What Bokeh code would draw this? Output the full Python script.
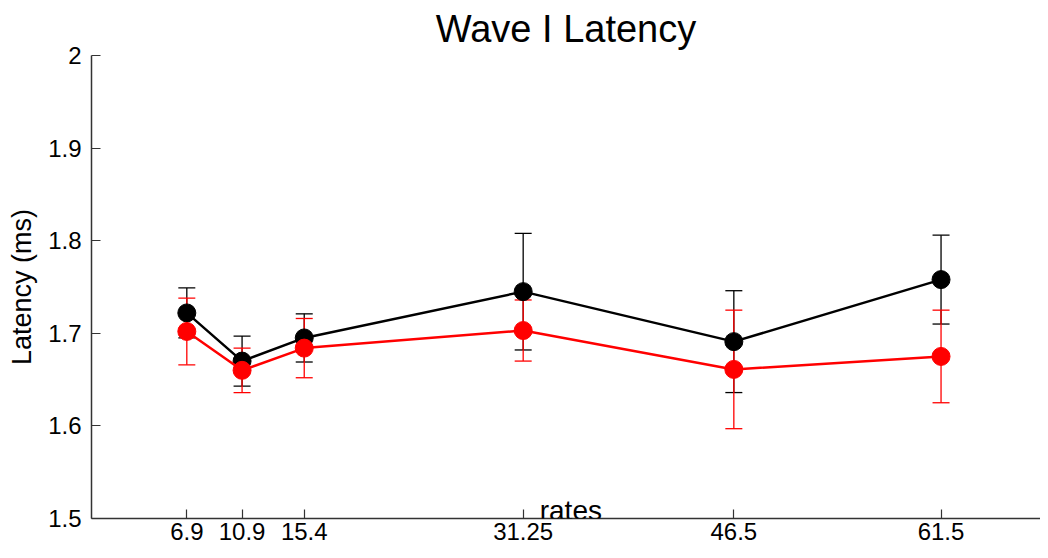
from bokeh.plotting import figure
from bokeh.models import (ColumnDataSource, Range1d, FixedTicker, Whisker, TeeHead,
                          Label, Title)
from bokeh.embed import file_html
from bokeh.resources import INLINE

# ---- data ----
rates = [6.9, 10.9, 15.4, 31.25, 46.5, 61.5]
rate_labels = ["6.9", "10.9", "15.4", "31.25", "46.5", "61.5"]
black_mean = [1.722, 1.670, 1.695, 1.745, 1.691, 1.758]
black_err = [0.027, 0.027, 0.026, 0.063, 0.055, 0.048]
red_mean = [1.702, 1.660, 1.684, 1.703, 1.661, 1.675]
red_err = [0.036, 0.024, 0.032, 0.033, 0.064, 0.050]
y_ticks = [1.5, 1.6, 1.7, 1.8, 1.9, 2.0]
y_tick_labels = ["1.5", "1.6", "1.7", "1.8", "1.9", "2"]

FONT = "Liberation Sans"

p = figure(width=1040, height=550, output_backend="svg", toolbar_location=None,
           x_range=Range1d(0, 68.7), y_range=Range1d(1.5, 2.0),
           min_border_left=91, min_border_right=0, min_border_top=55,
           min_border_bottom=32)
p.outline_line_color = None
p.grid.visible = False
p.background_fill_color = "white"
p.border_fill_color = "white"

p.title = Title(text="Wave I Latency", align="center", text_font=FONT,
                text_font_size="38px", text_font_style="normal",
                text_color="black", standoff=11)

for ax in (p.xaxis[0], p.yaxis[0]):
    ax.axis_line_color = "#333333"
    ax.axis_line_width = 1.5
    ax.major_tick_line_color = "#333333"
    ax.major_tick_line_width = 1.2
    ax.major_tick_in = 9
    ax.major_tick_out = 0
    ax.minor_tick_line_color = None
    ax.major_label_text_font = FONT
    ax.major_label_text_color = "black"

p.xaxis.ticker = FixedTicker(ticks=rates)
p.xaxis.major_label_overrides = {r: l for r, l in zip(rates, rate_labels)}
p.xaxis.major_label_standoff = 4
p.xaxis.major_label_text_font_size = "24px"

p.yaxis.ticker = FixedTicker(ticks=y_ticks)
p.yaxis.major_label_overrides = {t: l for t, l in zip(y_ticks, y_tick_labels)}
p.yaxis.major_label_standoff = 10
p.yaxis.major_label_text_font_size = "24px"
p.yaxis.axis_label = "Latency (ms)"
p.yaxis.axis_label_text_font = FONT
p.yaxis.axis_label_text_font_size = "27px"
p.yaxis.axis_label_text_font_style = "normal"
p.yaxis.axis_label_text_color = "black"
p.yaxis.axis_label_standoff = 8


def series(mean, err, color):
    src = ColumnDataSource(dict(x=rates, y=mean,
                                upper=[m + e for m, e in zip(mean, err)],
                                lower=[m - e for m, e in zip(mean, err)]))
    p.line("x", "y", source=src, line_color=color, line_width=2.5)
    p.scatter("x", "y", source=src, size=18, fill_color=color, line_color=color)
    w = Whisker(source=src, base="x", upper="upper", lower="lower",
                line_color=color, line_width=1.3,
                upper_head=TeeHead(size=17, line_color=color, line_width=1.3),
                lower_head=TeeHead(size=17, line_color=color, line_width=1.3))
    p.add_layout(w)


series(black_mean, black_err, "black")
series(red_mean, red_err, "#ff0000")

p.add_layout(Label(x=34.7, y=1.5, text="rates", text_align="center",
                   text_baseline="bottom", y_offset=-7, text_font=FONT,
                   text_font_size="28px", text_color="black"))

open("out.html", "w").write(file_html(p, INLINE))
